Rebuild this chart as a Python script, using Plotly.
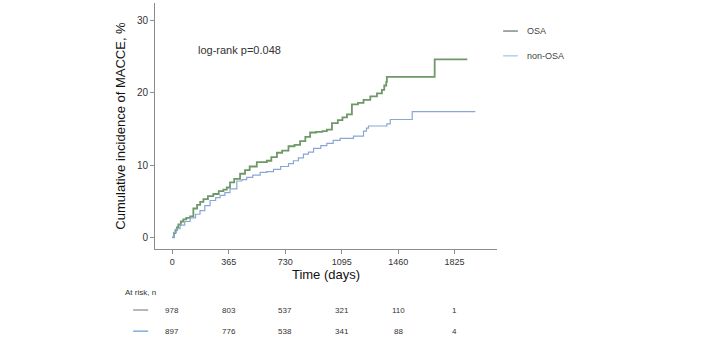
import plotly.graph_objects as go

# ---- data ----
osa_days = [0, 10, 20, 30, 39, 55, 71, 90, 115, 136, 160, 180, 201, 230, 265, 300, 330, 352, 373, 400,
            438, 470, 500, 546, 580, 611, 640, 676, 710, 751, 790, 826, 860, 891, 930, 970, 999, 1032,
            1070, 1100, 1129, 1161, 1200, 1236, 1280, 1323, 1355, 1370, 1383, 1387, 1696, 1907]
osa_cum = [0, 0.6, 1.0, 1.4, 1.8, 2.2, 2.5, 2.7, 2.9, 4.0, 4.5, 4.9, 5.3, 5.7, 6.0, 6.4, 6.6, 6.9, 7.6, 8.1,
           8.8, 9.3, 9.8, 10.4, 10.4, 10.6, 11.1, 11.7, 12.0, 12.6, 12.8, 13.3, 13.9, 14.5, 14.6, 14.7, 14.9, 15.8,
           16.2, 16.6, 17.0, 18.4, 18.6, 19.0, 19.5, 19.9, 20.4, 21.0, 21.5, 22.2, 24.6, 24.6]

non_days = [0, 10, 25, 50, 80, 115, 150, 179, 210, 244, 280, 309, 340, 373, 417, 450, 481, 520, 568, 610,
            654, 700, 751, 783, 815, 848, 880, 913, 960, 999, 1040, 1085, 1171, 1236, 1255, 1268, 1387, 1409,
            1551, 1959]
non_cum = [0, 0.7, 1.2, 1.7, 2.2, 2.7, 3.2, 3.7, 4.4, 5.1, 5.5, 5.8, 6.2, 6.7, 7.8, 8.0, 8.3, 8.6, 9.0, 9.1,
           9.4, 9.8, 10.2, 10.6, 11.0, 11.5, 11.8, 12.3, 12.7, 13.0, 13.4, 13.7, 14.0, 14.7, 15.1, 15.4, 15.7, 16.3,
           17.4, 17.4]

tick_days = [0, 365, 730, 1095, 1460, 1825]
risk_osa = [978, 803, 537, 321, 110, 1]
risk_non = [897, 776, 538, 341, 88, 4]

series_names = ["OSA", "non-OSA"]
osa_color = "#6f9868"
non_color = "#8aa6d6"
osa_key_color = "#8a948e"
non_key_color = "#8ab8e0"
axis_color = "#8c8c8c"
font_family = "Liberation Sans, Arial, sans-serif"

fig = go.Figure()
fig.add_trace(go.Scatter(x=osa_days, y=osa_cum, mode="lines", line=dict(color=osa_color, width=1.8, shape="hv"),
                         name=series_names[0], showlegend=False, hoverinfo="skip"))
fig.add_trace(go.Scatter(x=non_days, y=non_cum, mode="lines", line=dict(color=non_color, width=1.2, shape="hv"),
                         name=series_names[1], showlegend=False, hoverinfo="skip"))

fig.update_layout(
    width=722, height=344,
    margin=dict(l=155, r=225, t=3, b=95),
    paper_bgcolor="white", plot_bgcolor="white",
    font=dict(family=font_family, color="#333333"),
    xaxis=dict(range=[-112, 2099], tickvals=tick_days, ticktext=[str(t) for t in tick_days],
               showline=True, linecolor=axis_color, linewidth=1, ticks="outside", tickcolor=axis_color,
               ticklen=4, showgrid=False, zeroline=False, tickfont=dict(size=9, color="#333333"),
               title=dict(text="Time (days)", font=dict(size=13, color="#111111"), standoff=4)),
    yaxis=dict(range=[-1.6, 32.4], tickvals=[0, 10, 20, 30], showline=True, linecolor=axis_color, linewidth=1,
               ticks="outside", tickcolor=axis_color, ticklen=4, showgrid=False, zeroline=False,
               tickfont=dict(size=10, color="#333333"),
               title=dict(text="Cumulative incidence of MACCE, %", font=dict(size=13, color="#111111"), standoff=8)),
)

# p-value text
fig.add_annotation(x=0.12, y=0.809, xref="paper", yref="paper", text="log-rank p=0.048", showarrow=False,
                   xanchor="left", yanchor="middle", font=dict(size=11, color="#333333"))

# legend (manual)
leg = [(series_names[0], osa_key_color, 1.6, 0.886), (series_names[1], non_key_color, 1.0, 0.785)]
for name, col, w, yp in leg:
    fig.add_shape(type="line", xref="paper", yref="paper", x0=1.018, x1=1.061, y0=yp, y1=yp,
                  line=dict(color=col, width=w))
    fig.add_annotation(x=1.082, y=yp, xref="paper", yref="paper", text=name, showarrow=False,
                       xanchor="left", yanchor="middle", font=dict(size=9, color="#444444"))

# at-risk table
fig.add_annotation(x=-0.095, y=-0.178, xref="paper", yref="paper", text="At risk, n", showarrow=False,
                   xanchor="left", yanchor="middle", font=dict(size=8, color="#333333"))
rows = [(risk_osa, "#a0a0a0", -0.248), (risk_non, "#7fb0df", -0.334)]
for vals, col, yp in rows:
    fig.add_shape(type="line", xref="paper", yref="paper", x0=-0.064, x1=-0.02, y0=yp, y1=yp,
                  line=dict(color=col, width=1.5))
    for d, v in zip(tick_days, vals):
        fig.add_annotation(x=d, y=yp, xref="x", yref="paper", text=str(v), showarrow=False,
                           xanchor="center", yanchor="middle", font=dict(size=8, color="#333333"))

fig.write_html("out.html", config={"displayModeBar": False},
               post_script="document.body.style.margin='0';document.body.style.padding='0';")
